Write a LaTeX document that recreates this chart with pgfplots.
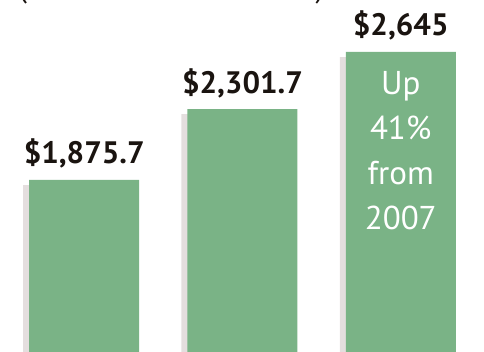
\documentclass[border=0pt]{standalone}
\usepackage{fontspec}
\setmainfont{PT Sans}
\usepackage{pgfplots}
\pgfplotsset{compat=1.18}
\definecolor{bargreen}{RGB}{122,179,134}
\definecolor{shadowgray}{RGB}{228,222,222}
\definecolor{labelink}{RGB}{26,20,16}
\begin{document}
\begin{tikzpicture}
\useasboundingbox (0,0) rectangle (484pt,352pt);
\clip (0,0) rectangle (484pt,352pt);
\begin{axis}[
  at={(0,0)}, anchor=south west,
  scale only axis, width=484pt, height=352pt,
  axis lines=none,
  xmin=-0.532, xmax=2.526,
  ymin=842, ymax=2957,
  clip=true,
]
% soft shadow to the left of each bar
\addplot[ybar, bar width=110pt, bar shift=-6pt, fill=shadowgray, draw=none]
  coordinates {(0,1845) (1,2271) (2,2614)};
% bars
\addplot[ybar, bar width=110pt, bar shift=0pt, fill=bargreen, draw=none,
  point meta=explicit symbolic,
  nodes near coords,
  every node near coord/.append style={anchor=base, yshift=16pt,
    font=\bfseries\fontsize{31}{37}\selectfont, text=labelink}]
  coordinates {(0,1875.7) [\$1,875.7] (1,2301.7) [\$2,301.7] (2,2645) [\$2,645]};
\node[text=white, align=center, font=\fontsize{33}{45}\selectfont, anchor=center]
  at (axis cs:2,2050) {Up\\41\%\\from\\2007};
\end{axis}
\node[anchor=base west, font=\fontsize{30}{36}\selectfont, text=labelink] at (15pt,354pt) {(\$ in millions of dollars)};
\end{tikzpicture}
\end{document}
